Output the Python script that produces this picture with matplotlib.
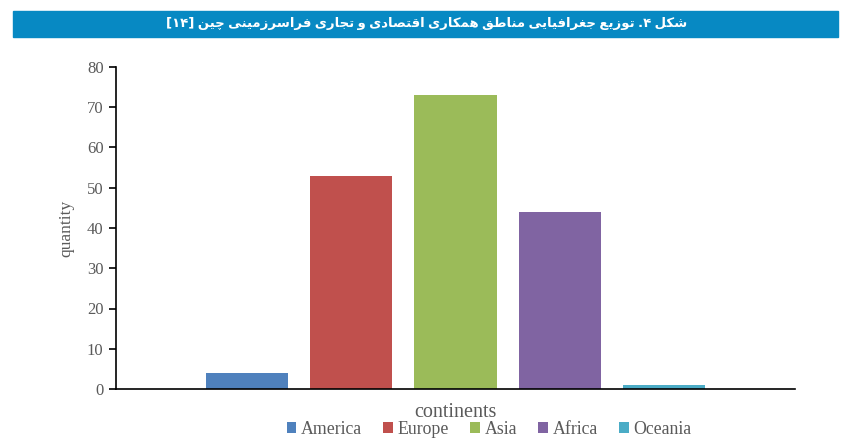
#!/usr/bin/env python3

'''
Bar chart: geographic distribution of China's overseas economic and trade cooperation zones
'''

import matplotlib as mpl
mpl.use('Agg')
import matplotlib.pyplot as plt
from matplotlib.patches import Rectangle

continents = ['America', 'Europe', 'Asia', 'Africa', 'Oceania']
quantity = [4, 53, 73, 44, 1]
colors = ['#4f81bd', '#c0504d', '#9bbb59', '#8064a2', '#4bacc6']
yticks = [0, 10, 20, 30, 40, 50, 60, 70, 80]
title = 'شکل ۴. توزیع جغرافیایی مناطق همکاری اقتصادی و تجاری فراسرزمینی چین [۱۴]'

# presentation forms: isolated, final, initial, medial
DUAL = {
    'ب': 'ﺏﺐﺑﺒ', 'ت': 'ﺕﺖﺗﺘ', 'ج': 'ﺝﺞﺟﺠ', 'چ': 'ﭺﭻﭼﭽ',
    'ش': 'ﺵﺶﺷﺸ', 'ص': 'ﺹﺺﺻﺼ', 'ط': 'ﻁﻂﻃﻄ', 'ع': 'ﻉﻊﻋﻌ',
    'غ': 'ﻍﻎﻏﻐ', 'ف': 'ﻑﻒﻓﻔ', 'ق': 'ﻕﻖﻗﻘ', 'ک': 'ﮎﮏﮐﮑ',
    'ل': 'ﻝﻞﻟﻠ', 'م': 'ﻡﻢﻣﻤ', 'ن': 'ﻥﻦﻧﻨ', 'ه': 'ﻩﻪﻫﻬ',
    'ی': 'ﯼﯽﯾﯿ', 'س': 'ﺱﺲﺳﺴ',
}
RIGHT = {'ا': 'ﺍﺎ', 'د': 'ﺩﺪ', 'ر': 'ﺭﺮ', 'ز': 'ﺯﺰ', 'و': 'ﻭﻮ'}
MIRROR = {'[': ']', ']': '[', '(': ')', ')': '('}


def shape_rtl(text):
    '''shape arabic letters and lay them out left-to-right for drawing'''
    out = []
    n = len(text)
    for i, ch in enumerate(text):
        prev = text[i - 1] if i > 0 else ''
        nxt = text[i + 1] if i < n - 1 else ''
        join_prev = prev in DUAL
        join_next = nxt in DUAL or nxt in RIGHT
        if ch in DUAL:
            forms = DUAL[ch]
            if join_prev and join_next:
                out.append(forms[3])
            elif join_prev:
                out.append(forms[1])
            elif join_next:
                out.append(forms[2])
            else:
                out.append(forms[0])
        elif ch in RIGHT:
            out.append(RIGHT[ch][1] if join_prev else RIGHT[ch][0])
        elif ch == ' ':
            # narrower word gap, closer to the condensed original
            out.append('\u2005')
        else:
            out.append(ch)
    vis = out[::-1]
    # digits keep their own order, brackets get mirrored
    res = []
    run = []
    for ch in vis:
        if ch.isdigit():
            run.append(ch)
            continue
        if run:
            res.extend(run[::-1])
            run = []
        res.append(MIRROR.get(ch, ch))
    res.extend(run[::-1])
    return ''.join(res)


fig = plt.figure(figsize=(8.47, 4.48), dpi=100)

# title banner
fig.patches.append(Rectangle((13 / 847, 1 - 37 / 448), 825 / 847, 26 / 448,
                             transform=fig.transFigure, color='#0789c3',
                             zorder=0))
fig.text(427 / 847, 1 - 23 / 448, shape_rtl(title), color='white',
         fontsize=9.5, fontweight='bold', family='DejaVu Sans',
         ha='center', va='center')

ax = fig.add_axes([116 / 847, 1 - 389 / 448, 679 / 847, 322 / 448])
x = list(range(len(continents)))
bars = ax.bar(x, quantity, width=0.79, color=colors, label=continents)

ax.set_xlim(-1.26, 5.26)
ax.set_ylim(0, 80)
ax.set_yticks(yticks)
ax.set_xticks([])
ax.spines['top'].set_visible(False)
ax.spines['right'].set_visible(False)
ax.spines['left'].set_linewidth(1.2)
ax.spines['bottom'].set_linewidth(1.2)
ax.tick_params(axis='y', length=5, width=1.2, direction='out', pad=4,
               labelsize=12, labelcolor='#5a5a5a')
for lbl in ax.get_yticklabels():
    lbl.set_family('Liberation Serif')

ax.set_ylabel('quantity', family='Liberation Serif', fontsize=12.5,
              color='#5a5a5a', labelpad=9)
ax.set_xlabel('continents', family='Liberation Serif', fontsize=14.5,
              color='#5a5a5a', labelpad=10)

ax.legend(bars, continents, loc='center',
          bbox_to_anchor=((489 - 116) / 679, -40 / 322), ncol=5,
          frameon=False, prop={'family': 'Liberation Serif', 'size': 12.8},
          handlelength=0.55, handleheight=0.55, handletextpad=0.25,
          columnspacing=1.2, labelcolor='#5a5a5a', borderpad=0)

fig.savefig('out.png', dpi=100)
